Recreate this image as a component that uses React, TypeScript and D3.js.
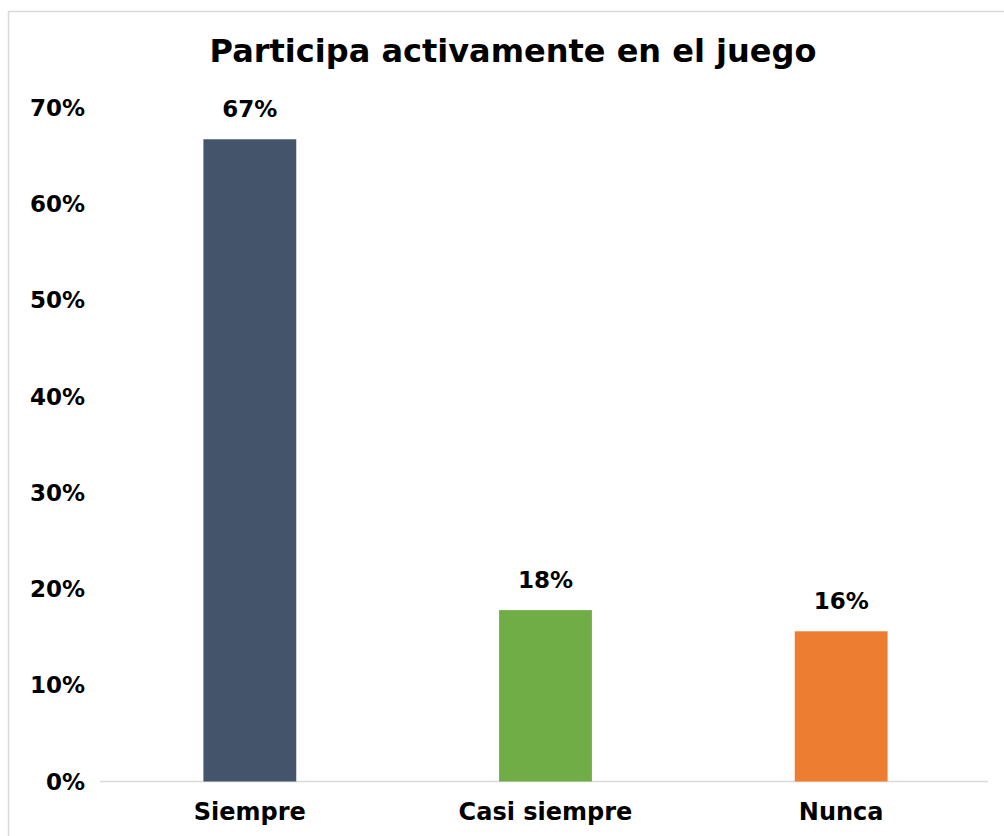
import React from "react";
import * as d3 from "d3";

const categories = ["Siempre", "Casi siempre", "Nunca"];
const values = [0.667, 0.178, 0.156];
const valueLabels = ["67%", "18%", "16%"];
const colors = ["#44546A", "#70AD47", "#ED7D31"];
const yTicks = [0, 0.1, 0.2, 0.3, 0.4, 0.5, 0.6, 0.7];
const title = "Participa activamente en el juego";

const W = 1004;
const H = 836;
const FONT = "'DejaVu Sans', sans-serif";

export default function App() {
  const x = d3.scaleBand<string>().domain(categories).range([102, 989]).paddingInner(0.686).paddingOuter(0.343);
  const y = d3.scaleLinear().domain([0, 0.7]).range([781.5, 107.5]);
  const fmt = d3.format(".0%");
  return (
    <svg width={W} height={H} style={{ position: "absolute", left: 0, top: 0, background: "#fff" }} fontFamily={FONT}>
      <rect x={8.5} y={11.5} width={1100} height={900} fill="#fff" stroke="#d9d9d9" strokeWidth={1.5} />
      <text x={513} y={62} textAnchor="middle" fontSize={32} fontWeight="bold" fill="#000">{title}</text>
      {yTicks.map((t) => (
        <text key={t} x={85} y={y(t)} dy="0.36em" textAnchor="end" fontSize={23} fontWeight="bold" fill="#000">{fmt(t)}</text>
      ))}
      <line x1={100} x2={988} y1={y(0)} y2={y(0)} stroke="#d9d9d9" strokeWidth={1.5} />
      {categories.map((c, i) => (
        <g key={c}>
          <rect x={x(c)} y={y(values[i])} width={x.bandwidth()} height={y(0) - y(values[i])} fill={colors[i]} />
          <text x={(x(c) ?? 0) + x.bandwidth() / 2} y={y(values[i]) - 22} textAnchor="middle" fontSize={23} fontWeight="bold" fill="#000">{valueLabels[i]}</text>
          <text x={(x(c) ?? 0) + x.bandwidth() / 2} y={820} textAnchor="middle" fontSize={24} fontWeight="bold" fill="#000">{c}</text>
        </g>
      ))}
    </svg>
  );
}
